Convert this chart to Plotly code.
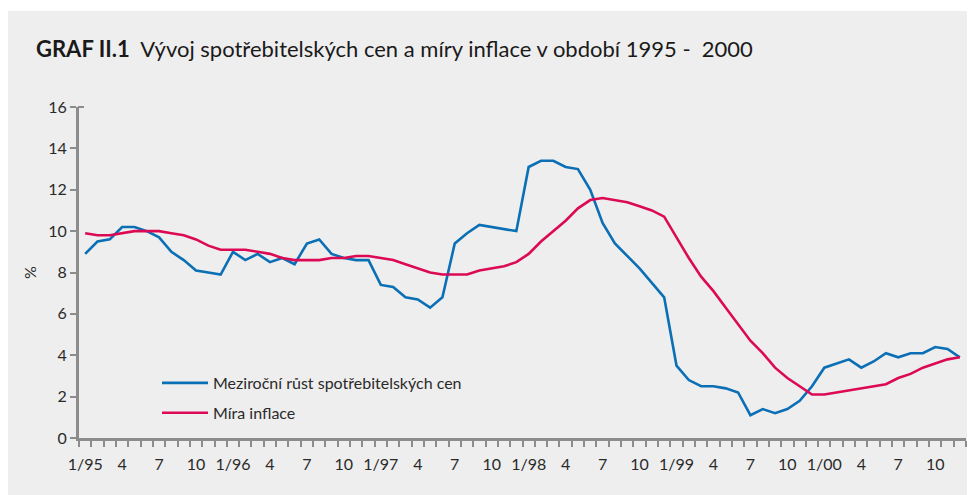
import plotly.graph_objects as go

months = [f"{m}/{y:02d}" for y in (95, 96, 97, 98, 99, 0) for m in range(1, 13)]

cpi_yoy = [8.9, 9.5, 9.6, 10.2, 10.2, 10.0, 9.7, 9.0, 8.6, 8.1, 8.0, 7.9,
           9.0, 8.6, 8.9, 8.5, 8.7, 8.4, 9.4, 9.6, 8.9, 8.7, 8.6, 8.6,
           7.4, 7.3, 6.8, 6.7, 6.3, 6.8, 9.4, 9.9, 10.3, 10.2, 10.1, 10.0,
           13.1, 13.4, 13.4, 13.1, 13.0, 12.0, 10.4, 9.4, 8.8, 8.2, 7.5, 6.8,
           3.5, 2.8, 2.5, 2.5, 2.4, 2.2, 1.1, 1.4, 1.2, 1.4, 1.8, 2.5,
           3.4, 3.6, 3.8, 3.4, 3.7, 4.1, 3.9, 4.1, 4.1, 4.4, 4.3, 3.9]

inflation = [9.9, 9.8, 9.8, 9.9, 10.0, 10.0, 10.0, 9.9, 9.8, 9.6, 9.3, 9.1,
             9.1, 9.1, 9.0, 8.9, 8.7, 8.6, 8.6, 8.6, 8.7, 8.7, 8.8, 8.8,
             8.7, 8.6, 8.4, 8.2, 8.0, 7.9, 7.9, 7.9, 8.1, 8.2, 8.3, 8.5,
             8.9, 9.5, 10.0, 10.5, 11.1, 11.5, 11.6, 11.5, 11.4, 11.2, 11.0, 10.7,
             9.7, 8.7, 7.8, 7.1, 6.3, 5.5, 4.7, 4.1, 3.4, 2.9, 2.5, 2.1,
             2.1, 2.2, 2.3, 2.4, 2.5, 2.6, 2.9, 3.1, 3.4, 3.6, 3.8, 3.9]

tick_labels = ["1/95", "4", "7", "10", "1/96", "4", "7", "10", "1/97", "4", "7", "10",
               "1/98", "4", "7", "10", "1/99", "4", "7", "10", "1/00", "4", "7", "10"]

series_names = ["Meziroční růst spotřebitelských cen", "Míra inflace"]
y_ticks = [0, 2, 4, 6, 8, 10, 12, 14, 16]

BLUE = "#0a6fb5"
RED = "#dc0a55"
BG = "#eeeeee"
AXIS = "#8c8c8c"
TXT = "#2a2a2a"
FONT = "Lato, Roboto, Open Sans"

W, H = 975, 495
OFF = 8  # page offset of the figure (body margin)
L, R, T, B = 71, 17, 99, 65

x_idx = list(range(len(months)))
tick_pos = x_idx[::3]

pw = W - L - R
ph = H - T - B


def px(xp):  # page x -> paper x
    return (xp - OFF - L) / pw


def py(yp):  # page y -> paper y
    return (H - B - (yp - OFF)) / ph


fig = go.Figure()
fig.add_trace(go.Scatter(x=x_idx, y=cpi_yoy, mode="lines", name=series_names[0],
                         legendgroup="a",
                         line=dict(color=BLUE, width=2.6), hoverinfo="skip"))
fig.add_trace(go.Scatter(x=x_idx, y=inflation, mode="lines", name=series_names[1],
                         legendgroup="b",
                         line=dict(color=RED, width=2.6), hoverinfo="skip"))

# white strip above the gray panel
fig.add_shape(type="rect", xref="paper", yref="paper",
              x0=px(-20), x1=px(W + 30), y0=py(11), y1=py(-20),
              fillcolor="white", line_width=0, layer="below")
# small cap at top of the y axis
fig.add_shape(type="line", xref="paper", yref="paper",
              x0=px(78), x1=px(84), y0=py(107), y1=py(107),
              line=dict(color=AXIS, width=2))

fig.add_annotation(xref="paper", yref="paper",
                   x=px(34), y=py(48),
                   xanchor="left", yanchor="middle", showarrow=False,
                   text="<b>GRAF II.1</b>  Vývoj spotřebitelských cen a míry inflace v období 1995 -  2000",
                   font=dict(family=FONT, size=22, color="#1a1a1a"))

fig.update_layout(
    width=W, height=H,
    margin=dict(l=L, r=R, t=T, b=B, pad=0, autoexpand=False),
    paper_bgcolor=BG, plot_bgcolor=BG,
    font=dict(family=FONT, size=16, color=TXT),
    showlegend=True,
    legend=dict(x=px(157), y=py(366), xanchor="left", yanchor="top",
                bgcolor="rgba(0,0,0,0)", font=dict(family=FONT, size=16, color=TXT),
                itemwidth=46, tracegroupgap=6),
    xaxis=dict(range=[-0.5, len(months) - 0.5], tickmode="array",
               tickvals=tick_pos, ticktext=tick_labels,
               ticks="", showgrid=False, zeroline=False, automargin=False,
               ticklabelstandoff=10,
               showline=True, linecolor=AXIS, linewidth=3,
               tickfont=dict(family=FONT, size=16, color=TXT),
               minor=dict(tickmode="linear", tick0=-0.5, dtick=1,
                          ticks="outside", ticklen=6, tickwidth=2, tickcolor=AXIS,
                          showgrid=False)),
    yaxis=dict(range=[0, 16], tickmode="array", tickvals=y_ticks,
               ticks="outside", ticklen=6, tickwidth=2, tickcolor=AXIS,
               showgrid=False, zeroline=False, automargin=False,
               showline=True, linecolor=AXIS, linewidth=3,
               tickfont=dict(family=FONT, size=16, color=TXT),
               title=dict(text="%", font=dict(family=FONT, size=16, color=TXT), standoff=8)),
)

fig.write_html("out.html")
